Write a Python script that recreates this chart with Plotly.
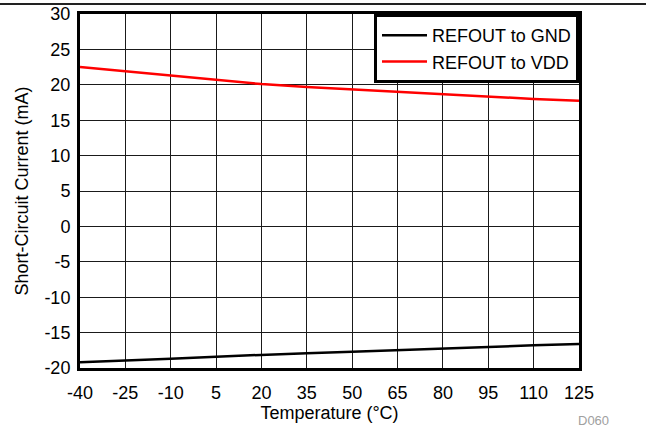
import plotly.graph_objects as go

temps = [-40, -25, -10, 5, 20, 35, 50, 65, 80, 95, 110, 125]
refout_gnd = [-19.2, -19.0, -18.7, -18.4, -18.1, -17.9, -17.7, -17.45, -17.2, -17.0, -16.8, -16.6]
refout_vdd = [22.5, 21.9, 21.3, 20.7, 20.1, 19.7, 19.35, 18.95, 18.6, 18.25, 18.0, 17.75]

x_ticks = list(range(-40, 126, 15))
x_labels = [str(v) for v in x_ticks]
y_ticks = list(range(-20, 31, 5))
y_labels = [str(v) for v in y_ticks]

fig = go.Figure()
fig.add_trace(go.Scatter(x=temps, y=refout_gnd, mode='lines', name='REFOUT to GND',
                         line=dict(color='black', width=2.5)))
fig.add_trace(go.Scatter(x=temps, y=refout_vdd, mode='lines', name='REFOUT to VDD',
                         line=dict(color='#ff0000', width=2.5)))

W, H = 646, 430
ml, mr, mt, mb = 80, 67, 14, 62
pw, ph = W - ml - mr, H - mt - mb

# thin rule across the top of the page
fig.add_shape(type='line', xref='paper', yref='paper', layer='above',
              x0=-ml / pw, x1=1 + mr / pw, y0=1 + (mt - 4) / ph, y1=1 + (mt - 4) / ph,
              line=dict(color='#222222', width=1.5))
# figure id in the corner
fig.add_annotation(text='D060', xref='paper', yref='paper',
                   x=(593 - ml) / pw, y=(H - mb - 421) / ph,
                   showarrow=False, font=dict(size=13, color='#a0a0a0'),
                   xanchor='center', yanchor='middle')

axis_common = dict(showgrid=True, gridcolor='#1a1a1a', gridwidth=1,
                   showline=True, linecolor='black', linewidth=3, mirror=True,
                   zeroline=False, ticks='', automargin=False,
                   tickfont=dict(size=18))

fig.update_layout(
    width=W, height=H,
    margin=dict(l=ml, r=mr, t=mt, b=mb),
    plot_bgcolor='white', paper_bgcolor='white',
    font=dict(family='Liberation Sans, Arial, sans-serif', size=18, color='black'),
    showlegend=True,
    legend=dict(x=1, y=1, xanchor='right', yanchor='top', bgcolor='white',
                bordercolor='black', borderwidth=3, font=dict(size=18),
                tracegroupgap=0, itemwidth=45),
    xaxis=dict(range=[-40, 125], tickvals=x_ticks, ticktext=x_labels, ticklabelstandoff=6,
               title=dict(text='Temperature (°C)', standoff=1, font=dict(size=18)),
               **axis_common),
    yaxis=dict(range=[-20, 30], tickvals=y_ticks, ticktext=y_labels, ticklabelstandoff=3,
               title=dict(text='Short-Circuit Current (mA)', standoff=12, font=dict(size=18)),
               **axis_common),
)

# drop the default page margin so the figure sits at the window's corner,
# and make sure the top rule sits above every plot layer
page_js = (
    "document.body.style.margin='0';"
    "var r=document.createElement('div');"
    "r.style.cssText='position:absolute;top:3px;left:0;width:646px;height:1.5px;"
    "background:#222;z-index:1000;pointer-events:none';"
    "document.body.appendChild(r);"
)
fig.write_html("out.html", config=dict(displayModeBar=False), post_script=page_js)
